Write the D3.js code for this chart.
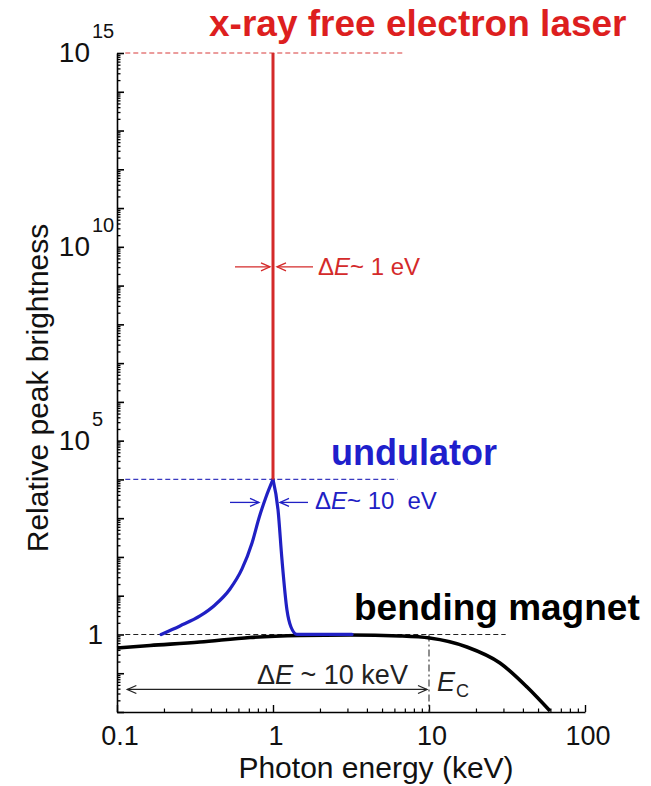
<!DOCTYPE html>
<html><head><meta charset="utf-8">
<script src="https://cdn.jsdelivr.net/npm/d3@7"></script>
<style>
body{margin:0;background:#fff}
svg{display:block}
text{font-family:"Liberation Sans",Arial,Helvetica,sans-serif}
</style>
</head><body>
<svg id="c" width="651" height="786"></svg>
<script>
// ---------------- data ----------------
const xTickValues = [0.1, 1, 10, 100];
const xTickLabels = ["0.1", "1", "10", "100"];
const yTickValues = [1, 1e5, 1e10, 1e15];
const yTickExponents = [0, 5, 10, 15];

// x-ray free electron laser (vertical line at 1 keV)
const xfelEnergy = [1, 1];
const xfelBrightness = [1e4, 1e15];

// undulator: rising flank then falling flank
const undRiseEnergy = [0.1915, 0.2534, 0.3404, 0.4249, 0.5302, 0.6328, 0.7336, 0.8134, 0.9019, 1.0];
const undRiseBrightness = [1.0, 1.66, 3.0, 5.77, 14.9, 49.0, 229, 1013, 3528, 1e4];
const undFallEnergy = [1.0, 1.077, 1.142, 1.229, 1.304, 1.425, 3.21];
const undFallBrightness = [1e4, 1630, 83.6, 4.29, 1.56, 1.0, 1.0];

// bending magnet
const bendEnergy = [0.1, 0.163, 0.340, 0.712, 1.49, 3.12, 6.52, 10.1, 17.5, 28.5, 42.5, 59.7];
const bendBrightness = [0.449, 0.52, 0.64, 0.837, 0.94, 0.97, 0.915, 0.81, 0.476, 0.184, 0.0442, 0.0106];

// reference (dashed) levels
const levelValues = [1e15, 1e4, 1];
const levelStart = [0.113, 0.113, 0.113];
const levelEnd = [7.0, 6.3, 31];
const levelColors = ["#d83a3a", "#3a3ac0", "#222"];

const criticalEnergy = 10;

// ---------------- chart ----------------
const svg = d3.select("#c");
const x = d3.scaleLog().domain([0.1, 100]).range([117, 585]);
const y = d3.scaleLog().domain([1e-2, 1e15]).range([712, 53]);

const RED = "#d42a2a", BLUE = "#2020c4", BLACK = "#000";

// axes
const majorY = d3.range(-2, 16).map(n => Math.pow(10, n));
const minorY = d3.range(-2, 15).flatMap(n => d3.range(2, 10).map(k => k * Math.pow(10, n)));
const majorX = d3.range(-1, 3).map(n => Math.pow(10, n));
const minorX = d3.range(-1, 2).flatMap(n => d3.range(2, 10).map(k => k * Math.pow(10, n)));

function styleAxis(g, keepDomain, w) {
  g.selectAll("text").remove();
  g.selectAll(".tick line").attr("stroke", "#000").attr("stroke-width", w);
  if (keepDomain) g.select(".domain").attr("stroke", "#000").attr("stroke-width", 1.6);
  else g.select(".domain").remove();
}
svg.append("g").attr("transform", "translate(117,0)")
  .call(d3.axisLeft(y).tickValues(minorY).tickSizeInner(-3.5).tickSizeOuter(0).tickFormat(""))
  .call(g => styleAxis(g, false, 1.3));
svg.append("g").attr("transform", "translate(117,0)")
  .call(d3.axisLeft(y).tickValues(majorY).tickSizeInner(-7).tickSizeOuter(0).tickFormat(""))
  .call(g => styleAxis(g, true, 1.6));
svg.append("g").attr("transform", "translate(0,712)")
  .call(d3.axisBottom(x).tickValues(minorX).tickSizeInner(-3.5).tickSizeOuter(0).tickFormat(""))
  .call(g => styleAxis(g, false, 1.2));
svg.append("g").attr("transform", "translate(0,712)")
  .call(d3.axisBottom(x).tickValues(majorX).tickSizeInner(-7).tickSizeOuter(0).tickFormat(""))
  .call(g => styleAxis(g, true, 1.4));

// tick labels
svg.append("g").selectAll("text").data(xTickValues).join("text")
  .attr("x", d => x(d) + 3).attr("y", 745).attr("text-anchor", "middle")
  .attr("font-size", 27).attr("fill", "#111").text((d, i) => xTickLabels[i]);

yTickValues.forEach((v, i) => {
  const e = yTickExponents[i];
  if (e === 0) {
    svg.append("text").attr("x", 103).attr("y", y(v) + 10).attr("text-anchor", "end")
      .attr("font-size", 28).attr("fill", "#111").text("1");
  } else {
    svg.append("text").attr("x", 90).attr("y", y(v) + 9).attr("text-anchor", "end")
      .attr("font-size", 28).attr("fill", "#111").text("10");
    svg.append("text").attr("x", 92).attr("y", y(v) - 15)
      .attr("font-size", 20).attr("fill", "#111").text(String(e));
  }
});

// axis titles
svg.append("text").attr("x", 376).attr("y", 778).attr("text-anchor", "middle")
  .attr("font-size", 30).attr("fill", "#111").text("Photon energy (keV)");
svg.append("text").attr("transform", "translate(48,388) rotate(-90)").attr("text-anchor", "middle")
  .attr("font-size", 30).attr("fill", "#111").text("Relative peak brightness");

// dashed reference levels
levelValues.forEach((v, i) => {
  svg.append("line").attr("x1", x(levelStart[i])).attr("x2", x(levelEnd[i]))
    .attr("y1", y(v)).attr("y2", y(v))
    .attr("stroke", levelColors[i]).attr("stroke-width", 1.1).attr("stroke-dasharray", "5,3");
});
// critical energy dash-dot
svg.append("line").attr("x1", x(criticalEnergy)).attr("x2", x(criticalEnergy))
  .attr("y1", y(1)).attr("y2", y(1e-2))
  .attr("stroke", "#333").attr("stroke-width", 1.1).attr("stroke-dasharray", "7,3,2,3");

const line = d3.line().x(d => x(d[0])).y(d => y(d[1])).curve(d3.curveMonotoneX);

// bending magnet
svg.append("path").attr("d", line(d3.zip(bendEnergy, bendBrightness)))
  .attr("fill", "none").attr("stroke", BLACK).attr("stroke-width", 3.6).attr("stroke-linecap", "butt");
// undulator
[[undRiseEnergy, undRiseBrightness], [undFallEnergy, undFallBrightness]].forEach(([e, b]) => {
  svg.append("path").attr("d", line(d3.zip(e, b)))
    .attr("fill", "none").attr("stroke", BLUE).attr("stroke-width", 3.2)
    .attr("stroke-linejoin", "round").attr("stroke-linecap", "round");
});
// XFEL
svg.append("path").attr("d", d3.line().x(d => x(d[0])).y(d => y(d[1]))(d3.zip(xfelEnergy, xfelBrightness)))
  .attr("fill", "none").attr("stroke", RED).attr("stroke-width", 3);

// arrows
function arrow(x1, x2, yy, color, bothEnds) {
  const g = svg.append("g").attr("stroke", color).attr("fill", "none").attr("stroke-width", 1.3);
  g.append("line").attr("x1", x1).attr("x2", x2).attr("y1", yy).attr("y2", yy);
  const head = (tip, dir) => g.append("path")
    .attr("d", `M${tip - dir * 9},${yy - 4}L${tip},${yy}L${tip - dir * 9},${yy + 4}`);
  head(x2, Math.sign(x2 - x1));
  if (bothEnds) head(x1, Math.sign(x1 - x2));
}
const x1k = x(1);
arrow(x1k - 38, x1k - 3, y(1e10) + 20, RED);
arrow(x1k + 40, x1k + 4, y(1e10) + 20, RED);
arrow(x1k - 43, x1k - 14, y(1e4) + 23, BLUE);
arrow(x1k + 35, x1k + 7, y(1e4) + 23, BLUE);
arrow(x(0.102) + 9, x(criticalEnergy) - 2, y(1) + 55, "#222", true);

// annotation texts
function deltaE(xx, yy, rest, color, size, extra) {
  const t = svg.append("text").attr("x", xx).attr("y", yy).attr("font-size", size).attr("fill", color);
  t.append("tspan").text("\u0394");
  t.append("tspan").attr("font-style", "italic").text("E");
  t.append("tspan").text(rest);
  if (extra) t.append("tspan").attr("dx", 13).text(extra);
  return t;
}
deltaE(x1k + 45, y(1e10) + 28, "~ 1 eV", RED, 24);
deltaE(x1k + 42, y(1e4) + 30, "~ 10", BLUE, 24, "eV");
deltaE(257, y(1) + 50, " ~ 10 keV", "#222", 27);

const ec = svg.append("text").attr("x", x(criticalEnergy) + 8).attr("y", y(1) + 57).attr("fill", "#222");
ec.append("tspan").attr("font-size", 27).attr("font-style", "italic").text("E");
ec.append("tspan").attr("font-size", 18).attr("dy", 6).attr("dx", 1).text("C");

// series labels
svg.append("text").attr("x", 209).attr("y", 36).attr("font-size", 37).attr("font-weight", "bold")
  .attr("fill", "#dd1f1f").text("x-ray free electron laser");
svg.append("text").attr("x", 497).attr("y", 465).attr("text-anchor", "end").attr("font-size", 36)
  .attr("font-weight", "bold").attr("fill", "#1f1fcc").text("undulator");
svg.append("text").attr("x", 354).attr("y", 620).attr("font-size", 37).attr("font-weight", "bold")
  .attr("fill", "#000").text("bending magnet");
</script>
</body></html>
